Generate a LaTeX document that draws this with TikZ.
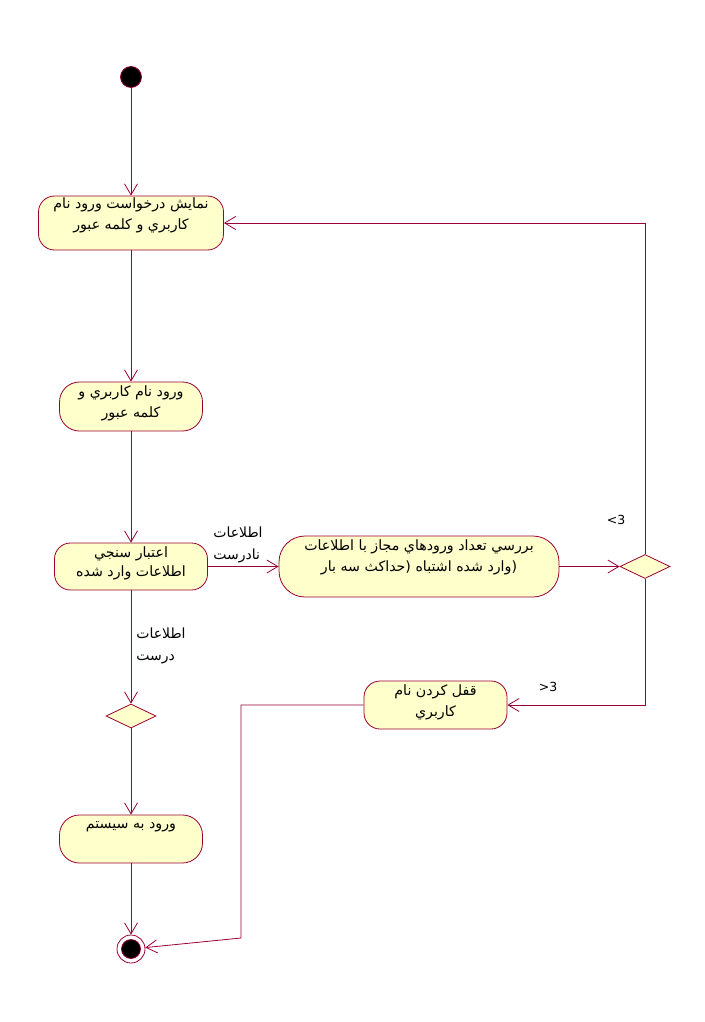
\documentclass[tikz,border=0pt]{standalone}
\usepackage{fontspec}
\setmainfont{DejaVu Sans}
\newfontfamily\fa[Script=Arabic]{DejaVu Sans}
\TeXXeTstate=1
\usetikzlibrary{shapes.geometric,arrows.meta}
\definecolor{lc}{RGB}{153,0,51}
\definecolor{fc}{RGB}{255,255,204}
\tikzset{
  act/.style={draw=lc, fill=fc, line width=0.8pt, rounded corners=16pt, inner sep=0pt},
  atext/.style={font=\fa\fontsize{14.2}{21}\selectfont, align=center, inner sep=0pt},
  dec/.style={diamond, draw=lc, fill=fc, line width=0.8pt, minimum width=50pt, minimum height=24pt, inner sep=0pt},
  flow/.style={draw=lc, line width=0.8pt, -{Straight Barb[length=11pt,width=13pt,line width=0.8pt]}},
  glabel/.style={font=\fa\fontsize{14}{22}\selectfont, align=left, inner sep=0pt},
  nlabel/.style={font=\fontsize{12.5}{14}\selectfont, inner sep=0pt}
}
\begin{document}
\begin{tikzpicture}[x=1pt,y=-1pt]
\useasboundingbox (0,0) rectangle (704,1022);
% start
\node[circle, fill=black, draw=lc, line width=0.8pt, minimum size=21pt, inner sep=0pt] (start) at (131,77) {};
% activities
\node[act, minimum width=185pt, minimum height=54pt,
  label={[atext, name=a1t, yshift=7.5pt]center:\beginR نمايش درخواست ورود نام\endR\\\beginR كاربري و كلمه عبور\endR}] (a1) at (131,223) {};
\node[act, rounded corners=20pt, minimum width=143pt, minimum height=49pt,
  label={[atext, name=a2t, yshift=3.5pt]center:\beginR ورود نام كاربري و\endR\\\beginR كلمه عبور\endR}] (a2) at (131,406.5) {};
\node[act, minimum width=153pt, minimum height=47pt,
  label={[atext, name=a3t, yshift=3pt, font=\fa\fontsize{14.2}{19}\selectfont]center:\beginR اعتبار سنجي\endR\\\beginR اطلاعات وارد شده\endR}] (a3) at (131,566.5) {};
\node[act, rounded corners=26pt, minimum width=280pt, minimum height=61pt,
  label={[atext, name=a4t, yshift=9.5pt]center:\beginR بررسي تعداد ورودهاي مجاز با اطلاعات\endR\\\beginR (وارد شده اشتباه (حداكث سه بار\endR}] (a4) at (419,566.5) {};
\node[dec] (d1) at (645,566.5) {};
\node[act, minimum width=143pt, minimum height=48pt,
  label={[atext, name=a6t, yshift=3pt]center:\beginR قفل كردن نام\endR\\\beginR كاربري\endR}] (a6) at (435.5,705) {};
\node[dec] (d2) at (131,716) {};
\node[act, rounded corners=20pt, minimum width=143pt, minimum height=48pt,
  label={[atext, name=a8t, yshift=12pt]center:\beginR ورود به سيستم\endR}] (a8) at (131,839) {};
% end
\node[circle, draw=lc, fill=white, line width=0.8pt, minimum size=28pt, inner sep=0pt,
  path picture={\fill[black] (path picture bounding box.center) circle (9.5pt);
                \draw[lc, line width=0.8pt] (path picture bounding box.center) circle (9.5pt);}] (end) at (131,949) {};
\coordinate (c1) at (241,938);
% flows
\draw[flow] (start) -- (a1);
\draw[flow] (a1) -- (a2);
\draw[flow] (a2) -- (a3);
\draw[flow] (a3) -- (a4);
\draw[flow] (a4) -- (d1);
\draw[flow] (d1.north) |- (a1.east);
\draw[flow] (d1.south) |- (a6.east);
\draw[flow] (a3) -- (d2);
\draw[flow] (d2) -- (a8);
\draw[flow] (a8) -- (end);
\draw[flow] (a6.west) -| (c1) -- (end);
% guard labels
\node[glabel] (g1) at (238,545) {\beginR اطلاعات\endR\\\beginR نادرست\endR};
\node[glabel] (g2) at (161,646) {\beginR اطلاعات\endR\\\beginR درست\endR};
\node[nlabel] (g3) at (616,520) {<3};
\node[nlabel] (g4) at (548,687) {>3};
\end{tikzpicture}
\end{document}
